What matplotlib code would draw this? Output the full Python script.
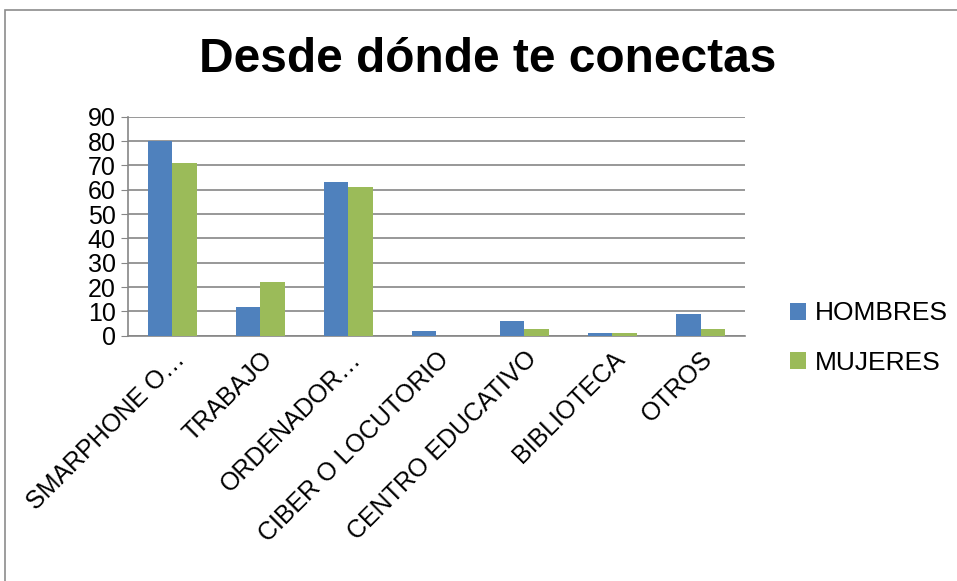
import numpy as np
import matplotlib.pyplot as plt
from matplotlib.patches import Rectangle

categories = ['SMARPHONE O…', 'TRABAJO', 'ORDENADOR…', 'CIBER O LOCUTORIO',
              'CENTRO EDUCATIVO', 'BIBLIOTECA', 'OTROS']
hombres = [80, 12, 63, 2, 6, 1, 9]
mujeres = [71, 22, 61, 0, 3, 1, 3]
yticks = [0, 10, 20, 30, 40, 50, 60, 70, 80, 90]

plt.rcParams['font.family'] = ['Liberation Sans', 'DejaVu Sans']

fig = plt.figure(figsize=(9.57, 5.81), dpi=100)
fig.patches.append(Rectangle((5 / 957, -0.1), 1.1, (581 - 10) / 581 + 0.1,
                             transform=fig.transFigure, fill=False,
                             edgecolor='#8c8c8c', linewidth=1.2))
ax = fig.add_axes([0.134, 0.422, 0.644, 0.377])

x = np.arange(len(categories))
w = 0.28
ax.bar(x - w / 2, hombres, w, color='#4F81BD', label='HOMBRES', zorder=3)
ax.bar(x + w / 2, mujeres, w, color='#9BBB59', label='MUJERES', zorder=3)

ax.set_xlim(-0.5, len(categories) - 0.5)
ax.set_ylim(0, 90)
ax.set_yticks(yticks)
ax.set_yticklabels([str(v) for v in yticks], fontsize=18)
ax.yaxis.grid(True, color='#868686', linewidth=1.2, zorder=0)
ax.set_xticks(x)
ax.set_xticklabels(categories, rotation=45, ha='right', rotation_mode='anchor',
                   fontsize=18)
ax.tick_params(axis='x', length=0, pad=8)
ax.tick_params(axis='y', length=5, color='#868686', pad=4)
for s in ['top', 'right']:
    ax.spines[s].set_visible(False)
for s in ['left', 'bottom']:
    ax.spines[s].set_color('#868686')
    ax.spines[s].set_linewidth(1.2)

fig.text(0.51, 0.897, 'Desde dónde te conectas', ha='center', va='center',
         fontsize=34.5, fontweight='bold')

ax.legend(loc='center left', bbox_to_anchor=(1.035, -0.01), frameon=False,
          fontsize=19, handlelength=0.6, handleheight=0.6, handletextpad=0.35,
          labelspacing=0.95)

fig.savefig('out.png', dpi=100)
